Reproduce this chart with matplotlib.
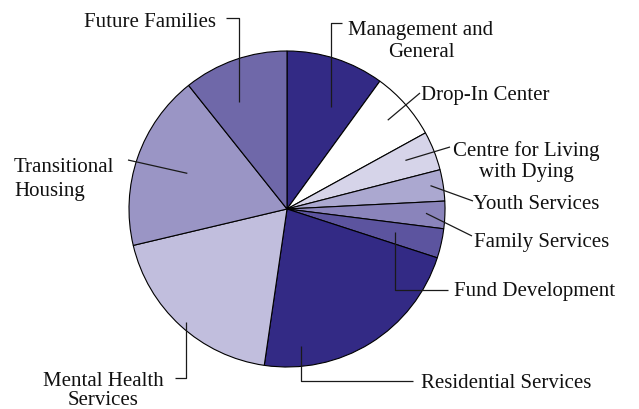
import numpy as np
import matplotlib
matplotlib.use("Agg")
import matplotlib.pyplot as plt

# share of budget by program (%), clockwise from 12 o'clock
labels = [
    "Management and\nGeneral",
    "Drop-In Center",
    "Centre for Living\nwith Dying",
    "Youth Services",
    "Family Services",
    "Fund Development",
    "Residential Services",
    "Mental Health\nServices",
    "Transitional\nHousing",
    "Future Families",
]
shares = [10.0, 7.0, 4.0, 3.2, 2.8, 3.0, 22.3, 19.0, 18.0, 10.7]
colors = ["#332a85", "#ffffff", "#d6d4e9", "#aba8d0", "#8a84bb",
          "#5c549f", "#332a85", "#c1bedd", "#9a95c5", "#6f68a9"]

W, H = 639, 410           # canvas in pixels, y measured from top below
CX, CY, R = 287, 210, 158

# label layout: text anchor (x, last-line baseline y), alignment, line spacing,
# leader end point, elbow leader?, anchor angle shift (deg), anchor radius fraction
text_xy = [(421, 57), (421, 100), (526, 177), (473, 209), (474, 247),
           (454, 296), (421, 388), (103, 405), (14, 196), (216, 27)]
text_ha = ["center", "left", "center", "left", "left",
           "left", "left", "center", "left", "right"]
line_sp = [1.22, 1.1, 1.12, 1.1, 1.1, 1.1, 1.1, 1.0, 1.38, 1.1]
leader_end = [(342, 24), (420, 94), (450, 148), (473, 202), (472, 237),
              (448, 291), (413, 382), (175, 379), (128, 161), (226, 19)]
elbow = [True, False, False, False, False, True, True, True, False, True]
ang_shift = [-5.2, 0, 0.7, 0.6, 0.4, 0.7, -26.1, 0.7, -0.6, 4.9]
rad_frac = [0.70, 0.85, 0.81, 0.92, 0.88, 0.70, 0.87, 0.96, 0.67, 0.74]

plt.rcParams["font.family"] = ["Liberation Serif", "DejaVu Serif"]

fig = plt.figure(figsize=(W / 100, H / 100), dpi=100)
ax = fig.add_axes([0, 0, 1, 1])

wedges, _ = ax.pie(shares, colors=colors, startangle=90, counterclock=False,
                   center=(CX, H - CY), radius=R,
                   wedgeprops=dict(edgecolor="black", linewidth=0.8))

for i, w in enumerate(wedges):
    mid = np.deg2rad((w.theta1 + w.theta2) / 2 + ang_shift[i])
    ax_, ay_ = CX + R * rad_frac[i] * np.cos(mid), H - CY + R * rad_frac[i] * np.sin(mid)
    ex, ey = leader_end[i][0], H - leader_end[i][1]
    if elbow[i]:
        xs, ys = [ax_, ax_, ex], [ay_, ey, ey]
    else:
        xs, ys = [ax_, ex], [ay_, ey]
    ax.plot(xs, ys, color="#1a1a1a", lw=0.9, solid_capstyle="butt")

    tx, ty = text_xy[i]
    ax.text(tx, H - ty, labels[i], ha=text_ha[i], va="baseline",
            multialignment="center" if text_ha[i] == "center" else "left",
            fontsize=15, color="#111111", linespacing=line_sp[i])

ax.set_xlim(0, W)
ax.set_ylim(0, H)
ax.set_aspect("equal")
ax.axis("off")

fig.savefig("out.png", dpi=100, facecolor="white")
